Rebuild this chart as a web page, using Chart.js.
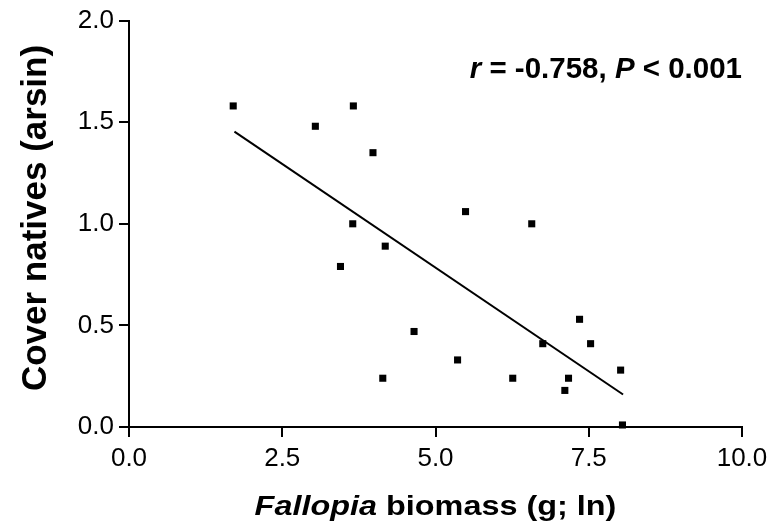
<!DOCTYPE html>
<html>
<head>
<meta charset="utf-8">
<script src="https://cdn.jsdelivr.net/npm/chart.js@4/dist/chart.umd.min.js"></script>
<style>
  html, body { margin: 0; padding: 0; background: #fff; }
  #wrap { width: 780px; height: 527px; position: relative; }
</style>
</head>
<body>
<div id="wrap"><canvas id="c"></canvas></div>
<script>
// values
const biomass = [1.70, 3.04, 3.66, 3.98, 3.65, 4.18, 3.45, 5.49, 6.57, 4.65, 4.14, 5.36, 6.26, 6.75, 7.35, 7.53, 7.17, 7.11, 8.02, 8.05];
const coverNatives = [1.58, 1.48, 1.58, 1.35, 1.00, 0.89, 0.79, 1.06, 1.00, 0.47, 0.24, 0.33, 0.24, 0.41, 0.53, 0.41, 0.24, 0.18, 0.28, 0.01];
const fitX = [1.72, 8.06];
const fitY = [1.454, 0.160];
const statsText = [['r', true], [' = -0.758, ', false], ['P', true], [' < 0.001', false]];
const xTitleParts = [['Fallopia', true], [' biomass (g; ln)', false]];
const yTitle = 'Cover natives (arsin)';

const FONT = '"Liberation Sans", Arial, sans-serif';

const points = biomass.map((x, i) => ({ x: x, y: coverNatives[i] }));
const fitLine = fitX.map((x, i) => ({ x: x, y: fitY[i] }));

function drawParts(ctx, parts, size, x, y, align) {
    let total = 0;
    parts.forEach(p => {
        ctx.font = (p[1] ? 'italic ' : '') + 'bold ' + size + 'px ' + FONT;
        total += ctx.measureText(p[0]).width;
    });
    let start = align === 'right' ? x - total : x - total / 2;
    parts.forEach(p => {
        ctx.font = (p[1] ? 'italic ' : '') + 'bold ' + size + 'px ' + FONT;
        ctx.fillText(p[0], start, y);
        start += ctx.measureText(p[0]).width;
    });
}

const textPlugin = {
    id: 'texts',
    afterDraw(chart) {
        const ctx = chart.ctx;
        const area = chart.chartArea;
        ctx.save();
        ctx.fillStyle = '#000';
        ctx.textAlign = 'left';
        ctx.textBaseline = 'alphabetic';

        // r / P annotation
        drawParts(ctx, statsText, 29.5, 742, 78, 'right');

        // x title, a bit wide like the original
        ctx.save();
        const cx = (area.left + area.right) / 2;
        ctx.translate(cx, 515);
        ctx.scale(1.2, 1);
        drawParts(ctx, xTitleParts, 27, 0, 0, 'center');
        ctx.restore();

        // y title
        ctx.save();
        ctx.translate(46, 218);
        ctx.rotate(-Math.PI / 2);
        ctx.textAlign = 'center';
        ctx.font = 'bold 35px ' + FONT;
        ctx.fillText(yTitle, 0, 0);
        ctx.restore();

        ctx.restore();
    }
};

const ctx = document.getElementById('c').getContext('2d');
const chart = new Chart(ctx, {
    type: 'scatter',
    data: {
        datasets: [{
            label: 'plots',
            data: points,
            pointStyle: 'rect',
            pointRadius: 5,
            pointBorderWidth: 0,
            backgroundColor: '#000',
            borderColor: '#000',
            clip: false,
            order: 1
        }, {
            type: 'line',
            label: 'fit',
            data: fitLine,
            showLine: true,
            pointRadius: 0,
            borderColor: '#000',
            borderWidth: 2,
            fill: false,
            order: 2
        }]
    },
    options: {
        responsive: true,
        maintainAspectRatio: false,
        animation: false,
        layout: { padding: { left: 0, right: 38, top: 18, bottom: 0 } },
        plugins: {
            legend: { display: false },
            tooltip: { enabled: false },
            title: { display: false }
        },
        scales: {
            x: {
                type: 'linear',
                min: 0,
                max: 10,
                afterFit: s => { s.height = 100; },
                ticks: {
                    stepSize: 2.5,
                    color: '#000',
                    padding: 6,
                    maxRotation: 0,
                    font: { family: FONT, size: 26 },
                    callback: v => v.toFixed(1)
                },
                grid: { drawOnChartArea: false, drawTicks: true, tickLength: 10, color: '#000', lineWidth: 2 },
                border: { display: true, color: '#000', width: 2 }
            },
            y: {
                min: 0,
                max: 2,
                afterFit: s => { s.width = 129; },
                ticks: {
                    stepSize: 0.5,
                    color: '#000',
                    padding: 5,
                    font: { family: FONT, size: 26 },
                    callback: v => v.toFixed(1)
                },
                grid: { drawOnChartArea: false, drawTicks: true, tickLength: 10, color: '#000', lineWidth: 2 },
                border: { display: true, color: '#000', width: 2 }
            }
        }
    },
    plugins: [textPlugin]
});
</script>
</body>
</html>
